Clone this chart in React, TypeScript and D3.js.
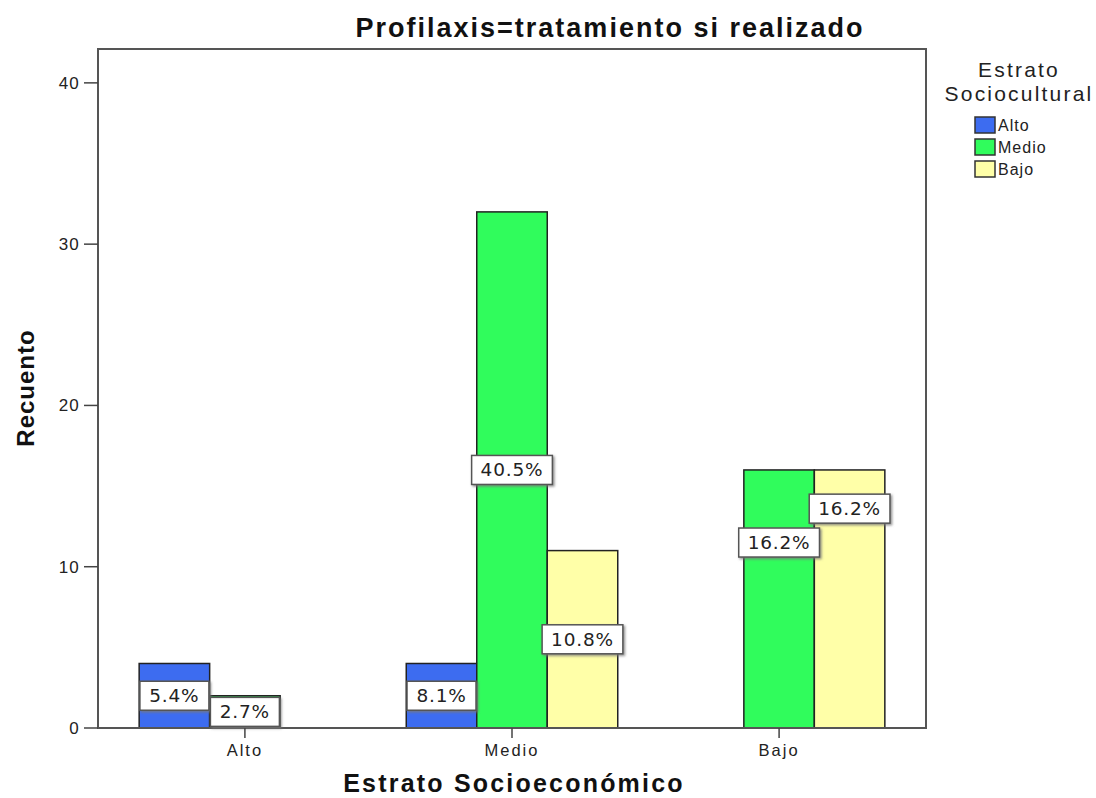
import React from "react";
import * as d3 from "d3";

const categories = ["Alto", "Medio", "Bajo"];
const series = ["Alto", "Medio", "Bajo"];
const colors = ["#3d6cf0", "#30fc5c", "#ffffa8"];
// counts[group][series]
const counts = [
  [4, 2, 0],
  [4, 32, 11],
  [0, 16, 16],
];
const pctLabels = [
  ["5.4%", "2.7%", null],
  ["8.1%", "40.5%", "10.8%"],
  [null, "16.2%", "16.2%"],
];
// value (on count axis) where each label box is centered
const labelAt = [
  [2, 1, null],
  [2, 16, 5.5],
  [null, 11.5, 13.6],
];
const yTicks = [0, 10, 20, 30, 40];

const W = 1096, H = 798;
const L = 98, R = 926, T = 49, B = 728;

export default function App() {
  const y = d3.scaleLinear().domain([0, 42.1]).range([B, T]);
  const x = d3.scalePoint<string>().domain(categories).range([L, R]).padding(0.55);
  const groupW = 211.5;
  const xs = d3.scaleBand<string>().domain(series).range([-groupW / 2, groupW / 2]).padding(0);
  const bw = xs.bandwidth();
  const font = "'Liberation Sans', Arial, sans-serif";
  const lblFont = "'DejaVu Sans', Verdana, sans-serif";
  const lblSize = 18.5;

  const measure = (s: string) => {
    // approximate DejaVu Sans widths
    let w = 0;
    for (const c of s) w += c === "." ? 0.318 : c === "%" ? 0.95 : 0.636;
    return w * lblSize;
  };

  return (
    <svg width={W} height={H} style={{ position: "absolute", left: 0, top: 0, background: "#fff" }}>
      <defs>
        <filter id="sh" x="-20%" y="-20%" width="150%" height="160%">
          <feDropShadow dx="1.5" dy="1.5" stdDeviation="0.8" floodColor="#777" floodOpacity="0.8" />
        </filter>
      </defs>
      <text x={610} y={37} textAnchor="middle" fontFamily={font} fontWeight="bold" fontSize={27} letterSpacing={2} fill="#111">
        Profilaxis=tratamiento si realizado
      </text>

      {/* bars */}
      {categories.map((cat, gi) =>
        series.map((s, si) => {
          const v = counts[gi][si];
          if (!v) return null;
          const x0 = (x(cat) as number) + (xs(s) as number);
          return (
            <rect key={cat + s} x={x0} y={y(v)} width={bw} height={y(0) - y(v)} fill={colors[si]} stroke="#222" strokeWidth={1.5} />
          );
        })
      )}

      {/* frame */}
      <rect x={L} y={T} width={R - L} height={B - T} fill="none" stroke="#555" strokeWidth={2} />

      {/* labels */}
      {categories.map((cat, gi) =>
        series.map((s, si) => {
          const t = pctLabels[gi][si];
          const at = labelAt[gi][si];
          if (!t || at == null) return null;
          const cx = (x(cat) as number) + (xs(s) as number) + bw / 2;
          const cy = y(at);
          const bwid = measure(t) + 22;
          return (
            <g key={"l" + cat + s}>
              <rect x={cx - bwid / 2} y={cy - 14.5} width={bwid} height={29} fill="#fff" stroke="#555" strokeWidth={1.5} filter="url(#sh)" />
              <text x={cx} y={cy + 6.5} textAnchor="middle" fontFamily={lblFont} fontSize={lblSize} letterSpacing={0.8} fill="#222">
                {t}
              </text>
            </g>
          );
        })
      )}

      {/* y axis */}
      {yTicks.map((t) => (
        <g key={t}>
          <line x1={84} x2={L} y1={y(t)} y2={y(t)} stroke="#444" strokeWidth={1.5} />
          <text x={80} y={y(t) + 6} textAnchor="end" fontFamily={font} fontSize={17} letterSpacing={1.2} fill="#222">
            {t}
          </text>
        </g>
      ))}
      <text transform={`translate(34,388) rotate(-90)`} textAnchor="middle" fontFamily={font} fontWeight="bold" fontSize={24} letterSpacing={1} fill="#111">
        Recuento
      </text>

      {/* x axis */}
      {categories.map((c) => (
        <g key={c}>
          <line x1={x(c)} x2={x(c)} y1={B} y2={B + 10} stroke="#444" strokeWidth={1.5} />
          <text x={x(c)} y={B + 28} textAnchor="middle" fontFamily={font} fontSize={16.5} letterSpacing={2} fill="#222">
            {c}
          </text>
        </g>
      ))}
      <text x={514} y={792} textAnchor="middle" fontFamily={font} fontWeight="bold" fontSize={25} letterSpacing={2.2} fill="#111">
        Estrato Socioeconómico
      </text>

      {/* legend */}
      <text x={1019} y={77} textAnchor="middle" fontFamily={font} fontSize={21} letterSpacing={2.2} fill="#222">Estrato</text>
      <text x={1019} y={101} textAnchor="middle" fontFamily={font} fontSize={21} letterSpacing={2.2} fill="#222">Sociocultural</text>
      {series.map((s, i) => (
        <g key={"lg" + s} transform={`translate(975,${117 + i * 22})`}>
          <rect x={0} y={0} width={20} height={16} fill={colors[i]} stroke="#333" strokeWidth={1.5} />
          <text x={23} y={14} fontFamily={font} fontSize={16} letterSpacing={1} fill="#222">{s}</text>
        </g>
      ))}
    </svg>
  );
}
